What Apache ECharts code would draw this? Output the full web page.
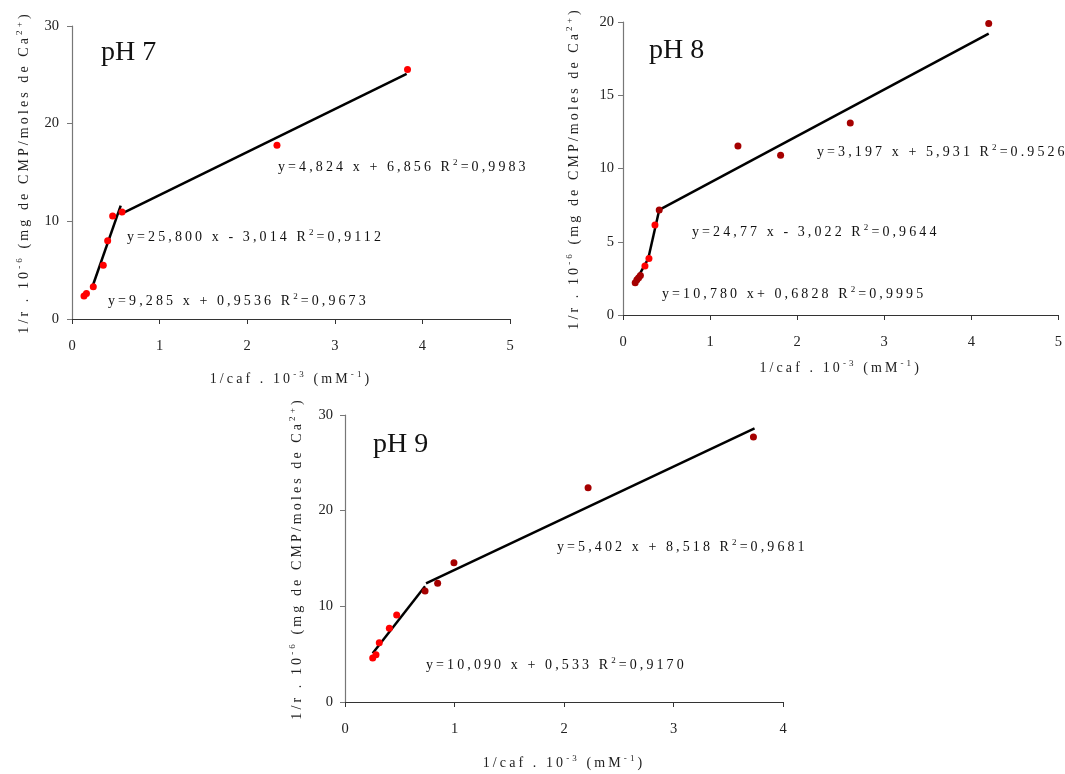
<!DOCTYPE html>
<html><head><meta charset="utf-8">
<script src="https://cdn.jsdelivr.net/npm/echarts@6/dist/echarts.min.js"></script>
<style>html,body{margin:0;padding:0;background:#fff}#c{width:1065px;height:774px}</style>
</head><body><div id="c"></div>
<script>
// ---- data ----
const panelTitles = ['pH 7', 'pH 8', 'pH 9'];
const xMaxes = [5, 5, 4];
const yMaxes = [30, 20, 30];
const yIntervals = [10, 5, 10];

const pH7Red = [[0.137,2.35],[0.165,2.6],[0.243,3.3],[0.357,5.5],[0.407,8.0],[0.464,10.55],[0.571,10.95],[2.34,17.8],[3.83,25.55]];
const pH7FitSteep = [[0.225,3.1],[0.556,11.6]];
const pH7FitUpper = [[0.556,10.75],[3.82,25.1]];

const pH8Red = [[0.252,3.34],[0.298,3.85],[0.367,6.14]];
const pH8Dark = [[0.14,2.2],[0.16,2.4],[0.18,2.55],[0.2,2.7],[0.416,7.17],[1.32,11.54],[1.81,10.9],[2.61,13.1],[4.2,19.9]];
const pH8FitLow = [[0.15,2.35],[0.29,3.85]];
const pH8FitSteep = [[0.29,3.85],[0.416,7.17]];
const pH8FitUpper = [[0.416,7.17],[4.2,19.2]];

const pH9Red = [[0.253,4.6],[0.283,4.95],[0.313,6.2],[0.405,7.7],[0.472,9.1]];
const pH9Dark = [[0.731,11.6],[0.846,12.4],[0.995,14.55],[2.22,22.4],[3.73,27.7]];
const pH9FitSteep = [[0.253,5.1],[0.731,12.1]];
const pH9FitUpper = [[0.74,12.4],[3.74,28.6]];

const eqPH7 = ['y=4,824 x + 6,856 R{s|2}=0,9983', 'y=25,800 x - 3,014 R{s|2}=0,9112', 'y=9,285 x + 0,9536 R{s|2}=0,9673'];
const eqPH8 = ['y=3,197 x + 5,931 R{s|2}=0.9526', 'y=24,77 x - 3,022 R{s|2}=0,9644', 'y=10,780 x+ 0,6828 R{s|2}=0,9995'];
const eqPH9 = ['y=5,402 x + 8,518 R{s|2}=0,9681', 'y=10,090 x + 0,533 R{s|2}=0,9170'];

const xName = '1/caf . 10{s|-3} (mM{s|-1})';
const yName = '1/r . 10{s|-6} (mg de CMP/moles de Ca{s|2+})';

// ---- expanded character spacing for the 14px/9px annotation texts ----
(function () {
  const P = CanvasRenderingContext2D.prototype;
  const spaced = /(^|\s)(14|9)px/;
  function setLS(ctx) {
    if ('letterSpacing' in ctx) ctx.letterSpacing = spaced.test(ctx.font) ? '3.1px' : '0px';
  }
  const f = P.fillText, m = P.measureText;
  P.fillText = function () { setLS(this); return f.apply(this, arguments); };
  P.measureText = function () { setLS(this); return m.apply(this, arguments); };
})();

// ---- style ----
const FONT = "'Liberation Serif','Times New Roman',serif";
const RED = '#ff0000', DARK = '#a50000';
const rich = {
  s: {fontSize: 9, fontFamily: FONT, color: '#222', verticalAlign: 'top', lineHeight: 9}
};

const grids = [
  {left: 72, top: 26, width: 438, height: 293},
  {left: 623, top: 22, width: 436, height: 293},
  {left: 345, top: 415, width: 438, height: 292}
];
const yLabelMargins = [13, 9, 12];
const xNameGaps = [50, 43, 51];
const yNameGaps = [38, 39, 38];

const xAxes = grids.map((g, i) => ({
  type: 'value', gridIndex: i, min: 0, max: xMaxes[i], interval: 1,
  splitLine: {show: false},
  axisLine: {show: true, lineStyle: {color: '#333', width: 1.2}},
  axisTick: {show: true, length: 5, lineStyle: {color: '#333'}},
  axisLabel: {margin: 20, fontFamily: FONT, fontSize: 14.5, color: '#222'},
  name: xName, nameLocation: 'middle', nameGap: xNameGaps[i],
  nameTextStyle: {fontFamily: FONT, fontSize: 14, color: '#222', lineHeight: 20, rich: rich}
}));
const yAxes = grids.map((g, i) => ({
  type: 'value', gridIndex: i, min: 0, max: yMaxes[i], interval: yIntervals[i],
  splitLine: {show: false},
  axisLine: {show: true, lineStyle: {color: '#777', width: 1.2}},
  axisTick: {show: true, length: 5, lineStyle: {color: '#777'}},
  axisLabel: {margin: yLabelMargins[i], fontFamily: FONT, fontSize: 14.5, color: '#222'},
  name: yName, nameLocation: 'middle', nameGap: yNameGaps[i], nameRotate: 90,
  nameTextStyle: {fontFamily: FONT, fontSize: 14, color: '#222', lineHeight: 20, rich: rich}
}));

function fit(data, i) {
  return {type: 'line', xAxisIndex: i, yAxisIndex: i, data: data, symbol: 'none',
    lineStyle: {color: '#000', width: 2.5}, silent: true, z: 2, animation: false};
}
function pts(data, i, color, size) {
  return {type: 'scatter', xAxisIndex: i, yAxisIndex: i, data: data, symbolSize: size,
    itemStyle: {color: color, opacity: 1}, clip: false, z: 3, animation: false};
}

const series = [
  fit(pH7FitSteep, 0), fit(pH7FitUpper, 0), pts(pH7Red, 0, RED, 7),
  fit(pH8FitLow, 1), fit(pH8FitSteep, 1), fit(pH8FitUpper, 1),
  pts(pH8Dark, 1, DARK, 7), pts(pH8Red, 1, RED, 7),
  fit(pH9FitSteep, 2), fit(pH9FitUpper, 2),
  pts(pH9Red, 2, RED, 7), pts(pH9Dark, 2, DARK, 7)
];

function txt(x, y, text, size, lh) {
  return {type: 'text', x: x, y: y, silent: true,
    style: {text: text, fontFamily: FONT, fontSize: size, fill: '#111',
      verticalAlign: 'middle', align: 'left', lineHeight: lh, rich: rich}};
}
const titlePos = [[101, 53], [649, 51], [373, 445]];
const eqPos = [
  [[278, 167], [127, 237], [108, 301]],
  [[817, 152], [692, 232], [662, 294]],
  [[557, 547], [426, 665]]
];
const eqs = [eqPH7, eqPH8, eqPH9];
const graphic = [];
panelTitles.forEach((t, i) => graphic.push(txt(titlePos[i][0], titlePos[i][1], t, 28, 30)));
eqs.forEach((list, i) => list.forEach((e, j) => graphic.push(txt(eqPos[i][j][0], eqPos[i][j][1], e, 14, 20))));

const chart = echarts.init(document.getElementById('c'), null, {renderer: 'canvas'});
chart.setOption({
  animation: false,
  backgroundColor: '#fff',
  grid: grids,
  xAxis: xAxes,
  yAxis: yAxes,
  series: series,
  graphic: graphic
});
</script></body></html>
